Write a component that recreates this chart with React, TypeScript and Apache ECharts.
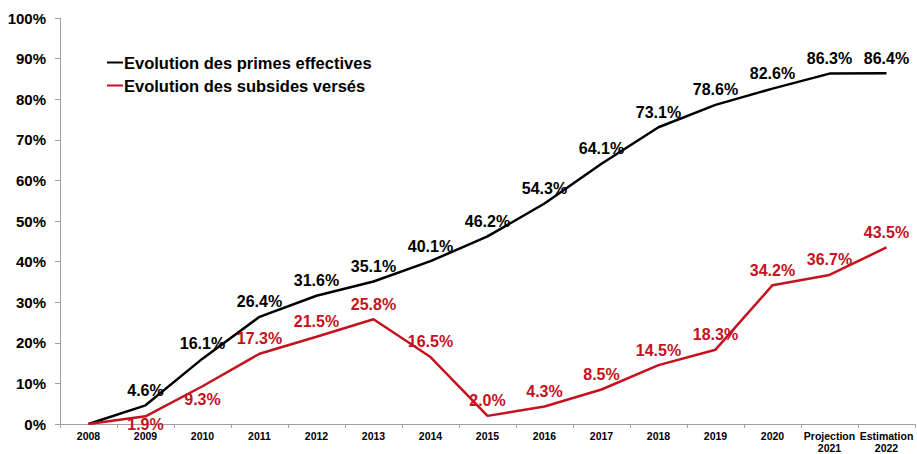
import React, { useEffect, useRef } from "react";
import * as echarts from "echarts";

const categories = ["2008", "2009", "2010", "2011", "2012", "2013", "2014", "2015", "2016", "2017", "2018", "2019", "2020", "Projection\n2021", "Estimation\n2022"];
const primes = [0, 4.6, 16.1, 26.4, 31.6, 35.1, 40.1, 46.2, 54.3, 64.1, 73.1, 78.6, 82.6, 86.3, 86.4];
const subsides = [0, 1.9, 9.3, 17.3, 21.5, 25.8, 16.5, 2.0, 4.3, 8.5, 14.5, 18.3, 34.2, 36.7, 43.5];
const subsidesBelow = ["2009", "2010"];
const yTicks = [0, 10, 20, 30, 40, 50, 60, 70, 80, 90, 100];

const FONT = "Liberation Sans, Arial, sans-serif";
const RED = "#C4121E";

export default function App() {
  const ref = useRef<HTMLDivElement>(null);
  useEffect(() => {
    const chart = echarts.init(ref.current!, undefined, { renderer: "svg" });
    chart.setOption({
      animation: false,
      textStyle: { fontFamily: FONT },
      grid: { left: 60, right: 2, top: 18, bottom: 28, containLabel: false },
      legend: {
        left: 102,
        top: 49,
        orient: "vertical",
        itemGap: 6,
        itemWidth: 16,
        itemHeight: 2,
        icon: "rect",
        textStyle: { fontFamily: FONT, fontWeight: "bold", fontSize: 16.5, color: "#000", padding: [0, 0, 0, -4] },
        data: ["Evolution des primes effectives", "Evolution des subsides versés"],
      },
      xAxis: {
        type: "category",
        data: categories,
        boundaryGap: true,
        axisLine: { lineStyle: { color: "#a0a0a0", width: 1 } },
        axisTick: { show: true, length: 4, lineStyle: { color: "#a0a0a0" } },
        axisLabel: { fontFamily: FONT, fontWeight: "bold", fontSize: 10.5, color: "#000", margin: 6, lineHeight: 12, interval: 0 },
      },
      yAxis: {
        type: "value",
        min: 0,
        max: 100,
        interval: 10,
        splitLine: { show: false },
        axisLine: { show: true, lineStyle: { color: "#a0a0a0", width: 1 } },
        axisTick: { show: true, length: 5, lineStyle: { color: "#a0a0a0" } },
        axisLabel: {
          fontFamily: FONT,
          fontWeight: "bold",
          fontSize: 15,
          color: "#000",
          margin: 14,
          formatter: (v: number) => (yTicks.includes(v) ? v + "%" : ""),
        },
      },
      series: [
        {
          name: "Evolution des primes effectives",
          type: "line",
          data: primes.map((v, i) => ({
            value: v,
            label: { show: i > 0 },
          })),
          showSymbol: true,
          symbol: "circle",
          symbolSize: 0.1,
          lineStyle: { color: "#000", width: 2.5 },
          itemStyle: { color: "#000" },
          label: {
            show: true,
            position: "top",
            distance: 7,
            fontFamily: FONT,
            fontWeight: "bold",
            fontSize: 16,
            color: "#000",
            formatter: (p: any) => p.value.toFixed(1) + "%",
          },
          labelLayout: { hideOverlap: false },
        },
        {
          name: "Evolution des subsides versés",
          type: "line",
          data: subsides.map((v, i) => ({
            value: v,
            label: {
              show: i > 0,
              position: subsidesBelow.includes(categories[i]) ? "bottom" : "top",
              distance: i === 1 ? 0 : subsidesBelow.includes(categories[i]) ? 5 : 7,
            },
          })),
          showSymbol: true,
          symbol: "circle",
          symbolSize: 0.1,
          lineStyle: { color: RED, width: 2.5 },
          itemStyle: { color: RED },
          label: {
            show: true,
            position: "top",
            distance: 7,
            fontFamily: FONT,
            fontWeight: "bold",
            fontSize: 16,
            color: RED,
            formatter: (p: any) => p.value.toFixed(1) + "%",
          },
          labelLayout: { hideOverlap: false },
        },
      ],
    });
    return () => chart.dispose();
  }, []);
  return <div ref={ref} style={{ width: 917, height: 454, position: "absolute", left: 0, top: 0, background: "#fff" }} />;
}
